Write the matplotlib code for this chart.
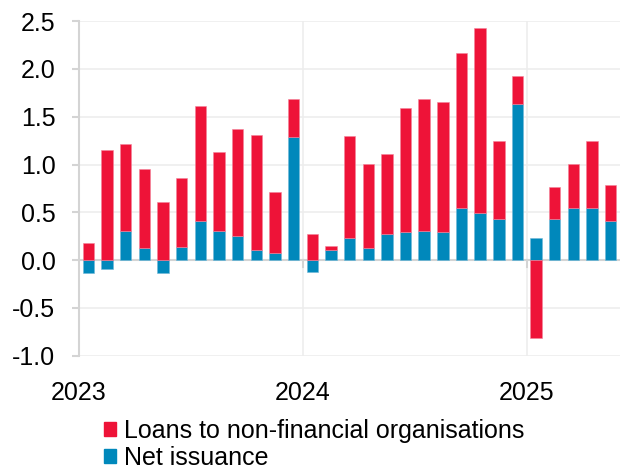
import numpy as np
import matplotlib.pyplot as plt
from matplotlib.patches import Patch

plt.rcParams['font.family'] = ['Liberation Sans', 'DejaVu Sans']

# monthly contributions, Jan 2023 - May 2025
months = ['2023-01', '2023-02', '2023-03', '2023-04', '2023-05', '2023-06',
          '2023-07', '2023-08', '2023-09', '2023-10', '2023-11', '2023-12',
          '2024-01', '2024-02', '2024-03', '2024-04', '2024-05', '2024-06',
          '2024-07', '2024-08', '2024-09', '2024-10', '2024-11', '2024-12',
          '2025-01', '2025-02', '2025-03', '2025-04', '2025-05']
net_issuance = [-0.13, -0.09, 0.31, 0.13, -0.13, 0.14, 0.41, 0.31, 0.25, 0.11,
                0.07, 1.29, -0.12, 0.11, 0.23, 0.13, 0.27, 0.29, 0.31, 0.29,
                0.55, 0.49, 0.43, 1.63, 0.23, 0.43, 0.55, 0.55, 0.41]
loans = [0.18, 1.15, 0.90, 0.82, 0.61, 0.72, 1.20, 0.82, 1.12, 1.20,
         0.64, 0.40, 0.27, 0.04, 1.07, 0.88, 0.84, 1.30, 1.38, 1.36,
         1.62, 1.94, 0.82, 0.30, -0.81, 0.34, 0.46, 0.70, 0.38]
year_labels = ['2023', '2024', '2025']

red = '#EE1338'
blue = '#0088BB'
grid_c = '#EDEDED'
axis_c = '#D4D4D4'
fs = 18

x = np.arange(len(months))
net = np.array(net_issuance)
lo = np.array(loans)

fig = plt.figure(figsize=(6.27, 4.70), dpi=100)
ax = fig.add_axes([0.126, 0.243, 0.863, 0.712])

# stack positives and negatives separately
pos_base = np.where(net > 0, net, 0)
neg_base = np.where(net < 0, net, 0)
loan_bottom = np.where(lo >= 0, pos_base, neg_base)

w = 0.61
ax.bar(x, net, width=w, color=blue, edgecolor='#6FB8D8', linewidth=0.4, zorder=3)
ax.bar(x, lo, width=w, bottom=loan_bottom, color=red, edgecolor='#F4839A',
       linewidth=0.4, zorder=3)

ax.set_xlim(-0.5, len(months) - 0.5)
ax.set_ylim(-1.0, 2.5)
yt = np.arange(-1.0, 2.51, 0.5)
ax.set_yticks(yt)
ax.set_yticklabels([f'{v:.1f}' for v in yt])

year_pos = [-0.5, 11.5, 23.5]
ax.set_xticks(year_pos)
ax.set_xticklabels(year_labels)

for s in ['top', 'right', 'bottom']:
    ax.spines[s].set_visible(False)
ax.spines['left'].set_color(axis_c)
ax.spines['left'].set_linewidth(1.5)

ax.tick_params(axis='y', colors=axis_c, length=5, width=1.5, labelsize=fs,
               labelcolor='black', pad=12)
ax.tick_params(axis='x', length=0, labelsize=fs, labelcolor='black', pad=18)

ax.yaxis.grid(True, color=grid_c, linewidth=1.2, zorder=0)
for xp in year_pos[1:]:
    ax.axvline(xp, color=grid_c, linewidth=1.2, zorder=0)
    ax.plot([xp, xp], [0, -0.07], color=axis_c, linewidth=1.5, zorder=2)
ax.axhline(0, color=axis_c, linewidth=1.5, zorder=2)
ax.set_axisbelow(True)

handles = [Patch(color=red, label='Loans to non-financial organisations'),
           Patch(color=blue, label='Net issuance')]
fig.legend(handles=handles, loc='upper left', bbox_to_anchor=(0.166, 0.108),
           frameon=False, fontsize=fs, handlelength=0.48, handleheight=0.48,
           handletextpad=0.3, labelspacing=0.1, borderaxespad=0, borderpad=0)

fig.savefig('out.png', dpi=100)
